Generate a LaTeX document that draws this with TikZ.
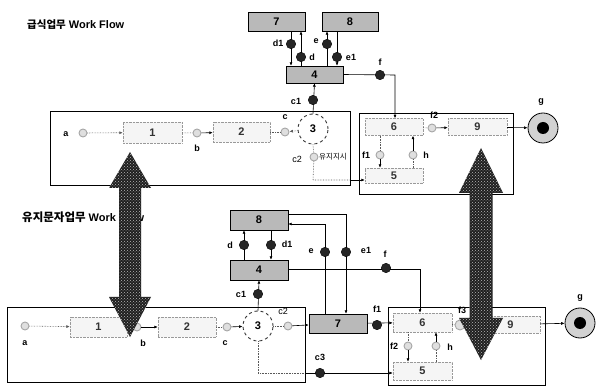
\documentclass[tikz,border=0pt]{standalone}
\usepackage{fontspec}
\setmainfont{Liberation Sans}
\newfontfamily\kr{Noto Sans CJK KR}
\usetikzlibrary{patterns,arrows.meta}
\begin{document}
\begin{tikzpicture}[x=1pt,y=-1pt,
  lbox/.style={draw=gray!80,densely dotted,fill=gray!8,inner sep=0,font=\bfseries\fontsize{11}{11}\selectfont,text=black!80},
  dbox/.style={draw=black,fill=gray!55,inner sep=0,font=\bfseries\fontsize{11}{11}\selectfont},
  frm/.style={draw=black,line width=0.8pt},
  bdot/.style={circle,draw=black,fill=black!85,inner sep=0,minimum size=9.5pt},
  sicon/.style={circle,draw=gray!70,fill=gray!25,inner sep=0,minimum size=8pt,line width=0.9pt},
  lab/.style={font=\bfseries\fontsize{9}{9}\selectfont,inner sep=0},
  ttl/.style={anchor=west,inner sep=0,font=\bfseries\fontsize{11}{11}\selectfont},
  conn/.style={draw=black,line width=0.6pt},
  dconn/.style={draw=gray!70!black,densely dotted,line width=0.6pt},
  arr/.style={-{Latex[length=3.5pt,width=3pt]}},
  circ3/.style={circle,draw=black!80,dashed,line width=0.9pt,fill=white,minimum size=30pt,inner sep=0,font=\bfseries\fontsize{11}{11}\selectfont},
  gout/.style={circle,draw=black,fill=gray!35,minimum size=30pt,inner sep=0,line width=0.8pt},
  gin/.style={circle,fill=black,minimum size=12pt,inner sep=0}
]
\useasboundingbox (0,0) rectangle (597,387);
\fill[white] (0,0) rectangle (597,387);

% ===== Upper section =====
\node[ttl] (t1) at (27,25) {{\kr\fontsize{10.5}{10.5}\selectfont 급식업무} Work Flow};
\draw[frm] (50,111) rectangle (350,185);
\draw[frm] (359,113) rectangle (513,194);

\node[lbox,minimum width=59pt,minimum height=21pt] (u1) at (152.5,132.5) {1};
\node[lbox,minimum width=57pt,minimum height=20pt] (u2) at (241.5,132) {2};
\node[circ3] (u3) at (313,129) {3};
\node[dbox,minimum width=57pt,minimum height=17pt] (u4) at (314.5,74.5) {4};
\node[dbox,minimum width=57pt,minimum height=19pt] (u7) at (276.5,21.5) {7};
\node[dbox,minimum width=56pt,minimum height=19pt] (u8) at (350,21.5) {8};
\node[lbox,minimum width=58pt,minimum height=17pt] (u6) at (394,127) {6};
\node[lbox,minimum width=59pt,minimum height=17pt] (u9) at (477.5,127) {9};
\node[lbox,minimum width=58pt,minimum height=15pt] (u5) at (394,175.5) {5};
\node[gout] (ug) at (543,128) {};
\node[gin] (ugi) at (543,128) {};
\node[lab] (ugl) at (541,102) {g};

% icons
\node[sicon] (ua) at (83,133) {};
\node[lab] (ual) at (66,134) {a};
\node[sicon] (ub) at (197,133) {};
\node[lab] (ubl) at (197,148) {b};
\node[sicon] (uc) at (285,132) {};
\node[lab] (ucl) at (285,117) {c};
\node[sicon] (uf2) at (432,128) {};
\node[lab] (uf2l) at (434,115) {f2};
\node[sicon] (uf1) at (380,155) {};
\node[lab] (uf1l) at (366,155) {f1};
\node[sicon] (uh) at (413,155) {};
\node[lab] (uhl) at (426,155) {h};
\node[sicon] (uc2) at (314,157) {};
\node[font=\fontsize{9}{9}\selectfont,inner sep=0] (uc2l) at (297,159) {c2};
\node[font=\kr\fontsize{7.5}{7.5}\selectfont,inner sep=0,anchor=west] (uc2t) at (319,157) {유지지시};

\coordinate (ucb) at (313,180);
\coordinate (ufk) at (395,75);

\draw[dconn,arr] (ua) -- (u1);
\draw[dconn] (u1) -- (ub);
\draw[conn,arr] (ub) -- (u2);
\draw[dconn] (u2) -- (uc);
\draw[dconn,arr] (u3) -- (uc);
\draw[conn,arr] (u3.north) -- (u4.south);
\node[bdot] (uc1) at (313,100) {};
\node[lab] (uc1l) at (296,101) {c1};

\draw[conn,arr] (u7.south -| 291,0) -- (u4.north -| 291,0);
\draw[conn,arr] (u4.north -| 301,0) -- (u7.south -| 301,0);
\draw[conn,arr] (u4.north -| 327,0) -- (u8.south -| 327,0);
\draw[conn,arr] (u8.south -| 337,0) -- (u4.north -| 337,0);
\node[bdot] (ud1) at (291,44) {};
\node[lab] (ud1l) at (278,43) {d1};
\node[bdot] (ud) at (301,57) {};
\node[lab] (udl) at (312,57) {d};
\node[bdot] (ue) at (327,44) {};
\node[lab] (uel) at (316,41) {e};
\node[bdot] (ue1) at (337,57) {};
\node[lab] (ue1l) at (351,57) {e1};

\draw[conn,arr] (u4.east) -- (ufk) -- (u6.north -| ufk);
\node[bdot] (uf) at (380,75) {};
\node[lab] (ufl) at (380,62) {f};

\draw[dconn] (u6) -- (uf2);
\draw[conn,arr] (uf2) -- (u9);
\draw[conn,arr] (u9) -- (ug);
\draw[dconn] (u6.south -| uf1) -- (uf1);
\draw[conn,arr] (uf1) -- (u5.north -| uf1);
\draw[conn,arr] (uh) -- (u6.south -| uh);
\draw[dconn] (u5.north -| uh) -- (uh);
\draw[dconn] (u3.south) -- (uc2);
\draw[dconn] (uc2) -- (ucb) -- (350,180);
\draw[conn,arr] (350,180) -- (u5.west |- ucb);

% ===== Lower section =====
\node[ttl] (t2) at (22,217) {{\kr\fontsize{11.5}{11.5}\selectfont 유지문자업무} Work Flow};
\draw[frm] (7,307) rectangle (305,382);
\draw[frm] (388,307) rectangle (545,385);

\node[lbox,minimum width=57pt,minimum height=20pt] (l1) at (98.5,327) {1};
\node[lbox,minimum width=58pt,minimum height=20pt] (l2) at (187,327) {2};
\node[circ3] (l3) at (258,326) {3};
\node[dbox,minimum width=58pt,minimum height=19pt] (l7) at (338,323.5) {7};
\node[dbox,minimum width=58pt,minimum height=20pt] (l4) at (259,270) {4};
\node[dbox,minimum width=58pt,minimum height=20pt] (l8) at (259,220) {8};
\node[lbox,minimum width=59pt,minimum height=19pt] (l6) at (422.5,322.5) {6};
\node[lbox,minimum width=59pt,minimum height=17pt] (l9) at (510.5,324.5) {9};
\node[lbox,minimum width=59pt,minimum height=18pt] (l5) at (422.5,371) {5};
\node[gout] (lg) at (580,323) {};
\node[gin] (lgi) at (580,323) {};
\node[lab] (lgl) at (580,298) {g};

\node[sicon] (la) at (25,326) {};
\node[lab] (lal) at (25,343) {a};
\node[sicon] (lb) at (137,327) {};
\node[lab] (lbl) at (143,343) {b};
\node[sicon] (lc) at (227,327) {};
\node[lab] (lcl) at (225,343) {c};
\node[sicon] (lc2) at (288,326) {};
\node[font=\fontsize{9}{9}\selectfont,inner sep=0] (lc2l) at (283,311) {c2};
\node[sicon,minimum size=10pt] (lf3) at (460,325) {};
\node[lab] (lf3l) at (462,310) {f3};
\node[sicon] (lf2) at (408,346) {};
\node[lab] (lf2l) at (394,346) {f2};
\node[sicon] (lh) at (436,346) {};
\node[lab] (lhl) at (450,347) {h};

\coordinate (le) at (325,224);
\coordinate (le1) at (346,214);
\coordinate (lfk) at (420,269);
\coordinate (lc3a) at (258,373);
\coordinate (lc3b) at (305,373);

\draw[dconn,arr] (la) -- (l1);
\draw[dconn] (l1) -- (lb);
\draw[conn,arr] (lb) -- (l2);
\draw[dconn] (l2) -- (lc);
\draw[conn,arr] (lc) -- (l3);
\draw[dconn] (l3) -- (lc2);
\draw[conn,arr] (lc2) -- (l7);
\draw[conn,arr] (l3.north) -- (l4.south);
\node[bdot] (lc1) at (258,294) {};
\node[lab] (lc1l) at (241,294) {c1};

\draw[conn,arr] (l4.north -| 244,0) -- (l8.south -| 244,0);
\draw[conn,arr] (l8.south -| 271,0) -- (l4.north -| 271,0);
\node[bdot] (ld) at (244,245) {};
\node[lab] (ldl) at (230,245) {d};
\node[bdot] (ld1) at (271,245) {};
\node[lab] (ld1l) at (287,244) {d1};

\draw[conn,arr] (l7.north -| le) -- (le) -- (l8.east |- le);
\draw[conn,arr] (l8.east |- le1) -- (le1) -- (l7.north -| le1);
\node[bdot] (lee) at (325,252) {};
\node[lab] (leel) at (311,251) {e};
\node[bdot] (le1d) at (346,252) {};
\node[lab] (le1l) at (366,250) {e1};

\draw[conn,arr] (l4.east |- lfk) -- (lfk) -- (l6.north -| lfk);
\node[bdot] (lf) at (386,268) {};
\node[lab] (lfl) at (385,254) {f};

\draw[conn,arr] (l7) -- (l6);
\node[bdot] (lf1) at (377,325) {};
\node[lab] (lf1l) at (377,309) {f1};

\draw[dconn] (l6) -- (lf3);
\draw[conn,arr] (lf3) -- (l9);
\draw[conn,arr] (l9) -- (lg);
\draw[dconn] (l6.south -| lf2) -- (lf2);
\draw[conn,arr] (lf2) -- (l5.north -| lf2);
\draw[conn,arr] (lh) -- (l6.south -| lh);
\draw[dconn] (l5.north -| lh) -- (lh);

\draw[dconn] (l3.south) -- (lc3a) -- (lc3b);
\draw[conn,arr] (lc3b) -- (l5.west |- lc3b);
\node[bdot] (lc3) at (320,373) {};
\node[lab] (lc3l) at (320,357) {c3};

% ===== big double arrows =====
\def\bigarrow#1#2#3#4#5#6#7{%
  \path[fill=black!88] (#1,#2) -- (#1+#6,#3) -- (#1+#7,#3) -- (#1+#7,#4) -- (#1+#6,#4) -- (#1,#5) -- (#1-#6,#4) -- (#1-#7,#4) -- (#1-#7,#3) -- (#1-#6,#3) -- cycle;
  \path[pattern=crosshatch dots,pattern color=gray!55] (#1,#2) -- (#1+#6,#3) -- (#1+#7,#3) -- (#1+#7,#4) -- (#1+#6,#4) -- (#1,#5) -- (#1-#6,#4) -- (#1-#7,#4) -- (#1-#7,#3) -- (#1-#6,#3) -- cycle;}
\bigarrow{130}{152}{188}{297}{337}{21}{11}
\bigarrow{481}{148}{193}{318}{360}{22}{11.5}
\end{tikzpicture}
\end{document}
